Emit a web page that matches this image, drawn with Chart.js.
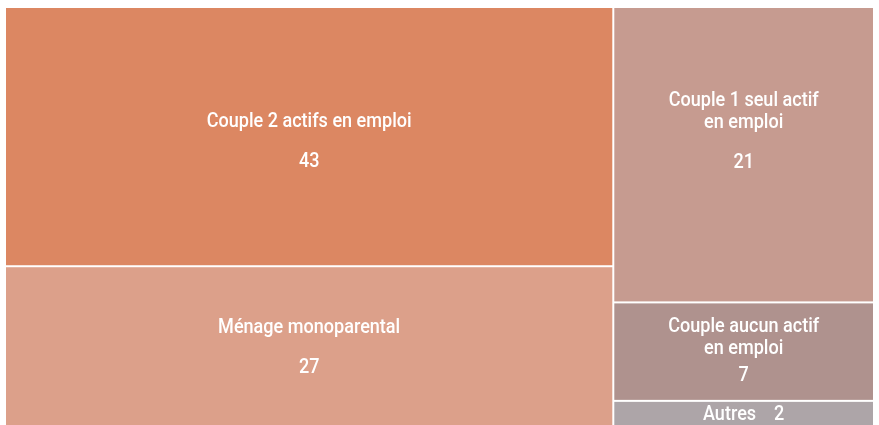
<!DOCTYPE html>
<html>
<head>
<meta charset="utf-8">
<script src="https://cdn.jsdelivr.net/npm/chart.js@4/dist/chart.umd.min.js"></script>
<style>
  body { margin: 0; background: #fff; overflow: hidden; }
</style>
</head>
<body>
<canvas id="myChart" width="879" height="429"></canvas>
<script>
// données du treemap (en %)
const categories = ["Couple 2 actifs en emploi", "Ménage monoparental", "Couple 1 seul actif en emploi", "Couple aucun actif en emploi", "Autres"];
const valeurs = [43, 27, 21, 7, 2];
const colonnes = [0, 0, 1, 1, 1];   // colonne de la mosaique
const couleurs = ["#dc8762", "#dca08a", "#c69b90", "#af928e", "#ada5a8"];

// lignes de libellé (retours à la ligne comme dans l'original)
const libelles = [
  ["Couple 2 actifs en emploi"],
  ["Ménage monoparental"],
  ["Couple 1 seul actif", "en emploi"],
  ["Couple aucun actif", "en emploi"],
  ["Autres"]
];

// police condensée simulée : Roboto compressé horizontalement
const FONT = "500 21px Roboto, 'DejaVu Sans Condensed', sans-serif";
const COMPRESSION = 0.86;

function texte(ctx, t, x, y)
{
  ctx.save();
  ctx.translate(x, y);
  ctx.scale(COMPRESSION, 1);
  ctx.fillText(t, 0, 0);
  ctx.restore();
}

// calcule les rectangles en unités des axes (0..100 sur x et y)
function mosaique()
{
  const total = valeurs.reduce((a, b) => a + b, 0);
  const rects = [];
  let x0 = 0;
  const nbCol = Math.max(...colonnes) + 1;
  for (let c = 0; c < nbCol; c++)
  {
    let somme = 0;
    for (let i = 0; i < valeurs.length; i++) if (colonnes[i] == c) somme += valeurs[i];
    const largeur = somme / total * 100;
    let y0 = 0;
    for (let i = 0; i < valeurs.length; i++)
    {
      if (colonnes[i] != c) continue;
      const h = valeurs[i] / somme * 100;
      rects[i] = {x0: x0, x1: x0 + largeur, y0: y0, y1: y0 + h};
      y0 += h;
    }
    x0 += largeur;
  }
  return rects;
}

const treemapPlugin = {
  id: "treemap",
  beforeDatasetsDraw(chart)
  {
    const ctx = chart.ctx;
    const xs = chart.scales.x;
    const ys = chart.scales.y;
    const rects = mosaique();
    ctx.save();
    for (let i = 0; i < rects.length; i++)
    {
      const r = rects[i];
      const left = xs.getPixelForValue(r.x0) + 1;
      const right = xs.getPixelForValue(r.x1) - 1;
      const top = ys.getPixelForValue(r.y0) + 1;
      const bottom = ys.getPixelForValue(r.y1) - 1;
      ctx.fillStyle = couleurs[i];
      ctx.fillRect(left, top, right - left, bottom - top);

      // texte
      ctx.fillStyle = "#ffffff";
      ctx.font = FONT;
      ctx.textAlign = "center";
      ctx.textBaseline = "middle";
      const cx = (left + right) / 2;
      const cy = (top + bottom) / 2;
      const h = bottom - top;
      if (h < 40)
      {
        texte(ctx, libelles[i][0] + "    " + valeurs[i], cx, cy);
        continue;
      }
      const lignes = libelles[i];
      const gap = h > 150 ? 40 : 27;
      const bloc = (lignes.length - 1) * 22 + gap;
      let y = cy - bloc / 2 + (i == 2 ? -23 : 0) + (i == 0 ? 5 : 0);
      for (const l of lignes)
      {
        texte(ctx, l, cx, y);
        y += 22;
      }
      texte(ctx, String(valeurs[i]), cx, y - 22 + gap);
    }
    ctx.restore();
  }
};

new Chart("myChart", {
  type: "scatter",
  data: {
    datasets: [{ data: [] }]
  },
  options: {
    responsive: false,
    animation: false,
    layout: { padding: { left: 5, right: 5, top: 7, bottom: 0 } },
    plugins: { legend: { display: false }, tooltip: { enabled: false } },
    scales: {
      x: { type: "linear", min: 0, max: 100, display: false },
      y: { type: "linear", min: 0, max: 100, reverse: true, display: false }
    }
  },
  plugins: [treemapPlugin]
});
</script>
</body>
</html>
